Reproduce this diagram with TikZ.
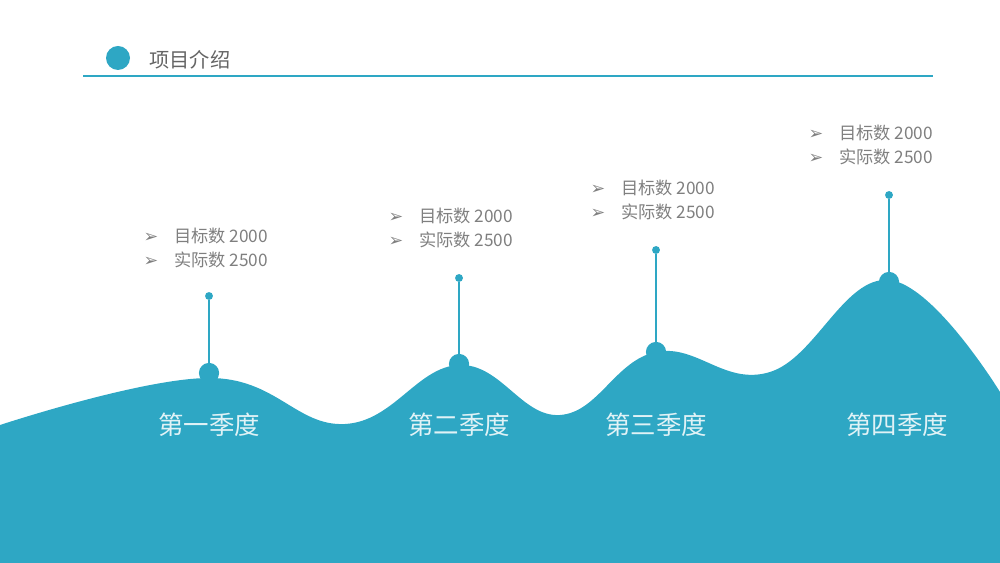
\documentclass[tikz,border=0pt]{standalone}
\usepackage{fontspec}
\setmainfont{Noto Sans CJK SC}
\newfontfamily\symfont{DejaVu Sans}
\usetikzlibrary{positioning}
\definecolor{sea}{HTML}{2EA7C4}
\definecolor{txtgray}{HTML}{7F7F7F}
\tikzset{
every picture/.style={line width=0.8pt, >=stealth},
%%%%%%%%%% Node styles
pinhead/.style={fill=sea,circle,minimum size=11.5pt, inner sep=0pt, outer sep=0},
pintip/.style={fill=sea,circle,minimum size=4.5pt, inner sep=0pt, outer sep=0},
quarter/.style={text=white!85!sea, font=\fontsize{14.5}{16}\selectfont},
info/.style={text=txtgray, anchor=west, inner sep=0pt, font=\fontsize{9.8}{11}\selectfont},
stem/.style={draw=sea, line width=0.9pt}
}
\begin{document}
\begin{tikzpicture}[x=0.02cm,y=-0.02cm]
\useasboundingbox (0,0) rectangle (1000,563);
% header
\fill[sea] (118,58) circle (12);
\node[anchor=west, text=txtgray!80!black, font=\fontsize{11.5}{13}\selectfont] (title) at (143,60) {项目介绍};
\coordinate (hl) at (83,76);
\coordinate (hr) at (933,76);
\draw[sea, line width=0.8pt] (hl) -- (hr);
% hills
\fill[sea] plot[smooth, tension=0.7] coordinates {(0,425) (209,378) (345,424) (459,365) (560,415) (656,352) (770,372) (889,280) (1000,392)}
  -- (1000,563) -- (0,563) -- cycle;
% pins and labels
\foreach \x/\hy/\ty/\ly/\lx/\q/\n/\qx in {209/373/296/236/143/第一季度/a/209, 459/364/278/216/388/第二季度/b/459, 656/352/250/188/590/第三季度/c/656, 889/282/195/133/808/第四季度/d/897}{
  \node[pinhead] (head\n) at (\x,\hy) {};
  \node[pintip] (tip\n) at (\x,\ty) {};
  \draw[stem] (tip\n) -- (head\n);
  \node[quarter] (q\n) at (\qx,425) {\q};
  \node[info] (goal\n) at (\lx,\ly) {{\symfont\fontsize{10}{11}\selectfont ➢}\hspace{9pt}目标数 2000};
  \node[info, below=3.5pt of goal\n.south west, anchor=north west] (real\n) {{\symfont\fontsize{10}{11}\selectfont ➢}\hspace{9pt}实际数 2500};
}
\end{tikzpicture}
\end{document}
